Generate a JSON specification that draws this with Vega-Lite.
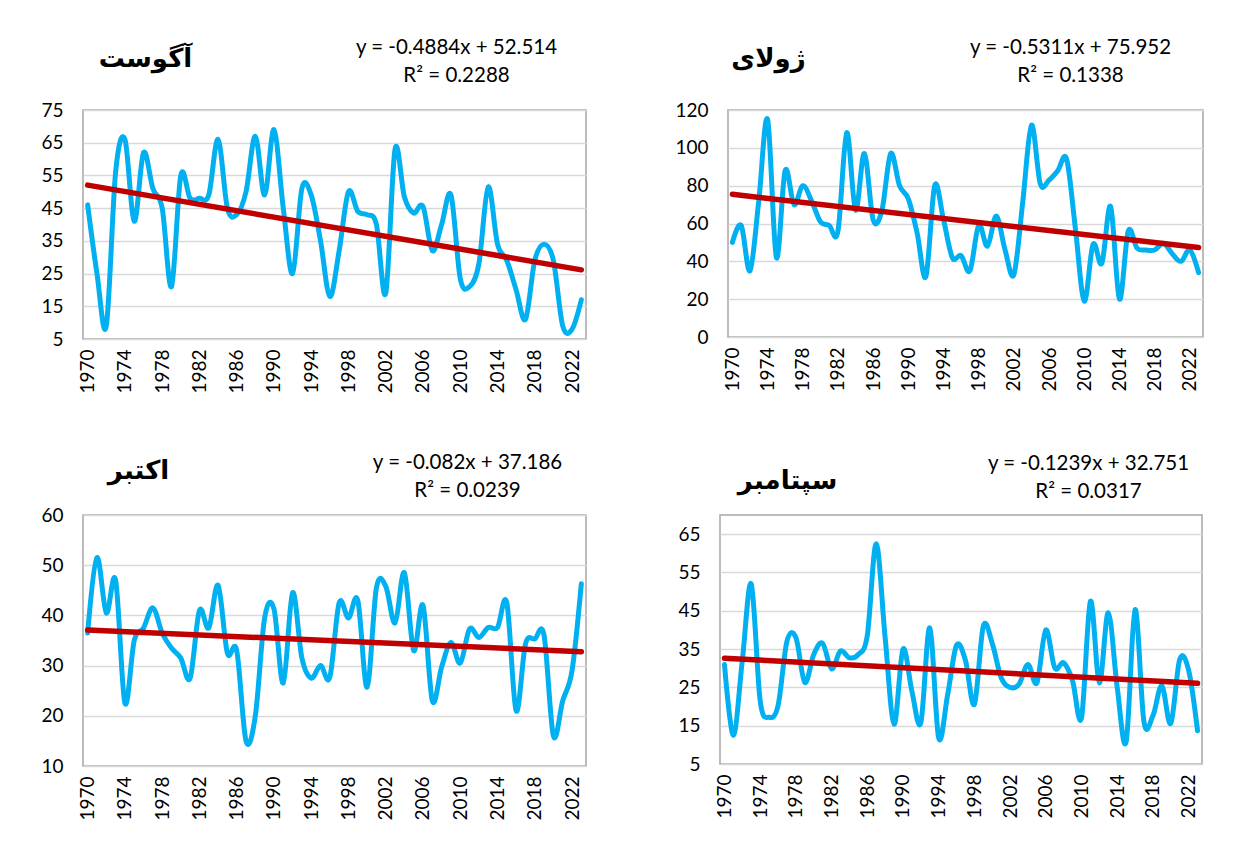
{
  "$schema": "https://vega.github.io/schema/vega-lite/v6.json",
  "background": "white",
  "padding": {"left": 40, "top": 36, "right": 10, "bottom": 0},
  "config": {
    "view": {"stroke": "#A6A6A6", "strokeWidth": 1.5},
    "axis": {"labelFont": "Lato", "labelFontSize": 19, "labelColor": "#000000", "ticks": false, "domain": false, "titleColor": "#000000"}
  },
  "datasets": {
    "aug": [
      {"year": 1970, "value": 46}, {"year": 1971, "value": 25}, {"year": 1972, "value": 9}, {"year": 1973, "value": 56},
      {"year": 1974, "value": 66}, {"year": 1975, "value": 41}, {"year": 1976, "value": 62}, {"year": 1977, "value": 51},
      {"year": 1978, "value": 45}, {"year": 1979, "value": 21}, {"year": 1980, "value": 55}, {"year": 1981, "value": 48},
      {"year": 1982, "value": 48}, {"year": 1983, "value": 49}, {"year": 1984, "value": 66}, {"year": 1985, "value": 45},
      {"year": 1986, "value": 43}, {"year": 1987, "value": 50}, {"year": 1988, "value": 67}, {"year": 1989, "value": 49},
      {"year": 1990, "value": 69}, {"year": 1991, "value": 45}, {"year": 1992, "value": 25}, {"year": 1993, "value": 51},
      {"year": 1994, "value": 49}, {"year": 1995, "value": 35}, {"year": 1996, "value": 18}, {"year": 1997, "value": 32},
      {"year": 1998, "value": 50}, {"year": 1999, "value": 44}, {"year": 2000, "value": 43}, {"year": 2001, "value": 40},
      {"year": 2002, "value": 19}, {"year": 2003, "value": 63}, {"year": 2004, "value": 48.5}, {"year": 2005, "value": 43.5},
      {"year": 2006, "value": 45.5}, {"year": 2007, "value": 32}, {"year": 2008, "value": 40}, {"year": 2009, "value": 49},
      {"year": 2010, "value": 23.5}, {"year": 2011, "value": 21}, {"year": 2012, "value": 28}, {"year": 2013, "value": 51.5},
      {"year": 2014, "value": 34}, {"year": 2015, "value": 29}, {"year": 2016, "value": 20}, {"year": 2017, "value": 11},
      {"year": 2018, "value": 29}, {"year": 2019, "value": 34}, {"year": 2020, "value": 29}, {"year": 2021, "value": 9},
      {"year": 2022, "value": 8}, {"year": 2023, "value": 17}
    ],
    "augTrend": [{"year": 1970, "value": 52.03}, {"year": 2023, "value": 26.14}],
    "jul": [
      {"year": 1970, "value": 50}, {"year": 1971, "value": 59}, {"year": 1972, "value": 35}, {"year": 1973, "value": 72},
      {"year": 1974, "value": 115}, {"year": 1975, "value": 42}, {"year": 1976, "value": 88}, {"year": 1977, "value": 70},
      {"year": 1978, "value": 80}, {"year": 1979, "value": 72}, {"year": 1980, "value": 61}, {"year": 1981, "value": 59},
      {"year": 1982, "value": 56}, {"year": 1983, "value": 108}, {"year": 1984, "value": 67}, {"year": 1985, "value": 97},
      {"year": 1986, "value": 62}, {"year": 1987, "value": 67}, {"year": 1988, "value": 97}, {"year": 1989, "value": 80},
      {"year": 1990, "value": 73}, {"year": 1991, "value": 55}, {"year": 1992, "value": 32}, {"year": 1993, "value": 80},
      {"year": 1994, "value": 62}, {"year": 1995, "value": 42}, {"year": 1996, "value": 43}, {"year": 1997, "value": 35},
      {"year": 1998, "value": 59}, {"year": 1999, "value": 48}, {"year": 2000, "value": 64}, {"year": 2001, "value": 46},
      {"year": 2002, "value": 33}, {"year": 2003, "value": 71}, {"year": 2004, "value": 112}, {"year": 2005, "value": 81},
      {"year": 2006, "value": 83}, {"year": 2007, "value": 88}, {"year": 2008, "value": 94}, {"year": 2009, "value": 57},
      {"year": 2010, "value": 19}, {"year": 2011, "value": 49}, {"year": 2012, "value": 39}, {"year": 2013, "value": 69},
      {"year": 2014, "value": 20}, {"year": 2015, "value": 56}, {"year": 2016, "value": 47}, {"year": 2017, "value": 46},
      {"year": 2018, "value": 46}, {"year": 2019, "value": 49.5}, {"year": 2020, "value": 44}, {"year": 2021, "value": 40},
      {"year": 2022, "value": 46}, {"year": 2023, "value": 34}
    ],
    "julTrend": [{"year": 1970, "value": 75.42}, {"year": 2023, "value": 47.27}],
    "oct": [
      {"year": 1970, "value": 36.5}, {"year": 1971, "value": 51.5}, {"year": 1972, "value": 40.5}, {"year": 1973, "value": 47},
      {"year": 1974, "value": 22.5}, {"year": 1975, "value": 35}, {"year": 1976, "value": 37.5}, {"year": 1977, "value": 41.5},
      {"year": 1978, "value": 36.5}, {"year": 1979, "value": 33.5}, {"year": 1980, "value": 31.5}, {"year": 1981, "value": 27.5},
      {"year": 1982, "value": 41}, {"year": 1983, "value": 37.5}, {"year": 1984, "value": 46}, {"year": 1985, "value": 32.5},
      {"year": 1986, "value": 33}, {"year": 1987, "value": 15}, {"year": 1988, "value": 20}, {"year": 1989, "value": 39.5},
      {"year": 1990, "value": 41.3}, {"year": 1991, "value": 26.5}, {"year": 1992, "value": 44.5}, {"year": 1993, "value": 31.5},
      {"year": 1994, "value": 27.5}, {"year": 1995, "value": 30}, {"year": 1996, "value": 27.7}, {"year": 1997, "value": 42.5},
      {"year": 1998, "value": 39.5}, {"year": 1999, "value": 43}, {"year": 2000, "value": 25.7}, {"year": 2001, "value": 45.5},
      {"year": 2002, "value": 45.8}, {"year": 2003, "value": 38.5}, {"year": 2004, "value": 48.5}, {"year": 2005, "value": 33},
      {"year": 2006, "value": 42}, {"year": 2007, "value": 23}, {"year": 2008, "value": 29.7}, {"year": 2009, "value": 34.6},
      {"year": 2010, "value": 30.5}, {"year": 2011, "value": 37.3}, {"year": 2012, "value": 35.6}, {"year": 2013, "value": 37.6},
      {"year": 2014, "value": 37.6}, {"year": 2015, "value": 42.5}, {"year": 2016, "value": 21}, {"year": 2017, "value": 34.3},
      {"year": 2018, "value": 35.3}, {"year": 2019, "value": 36}, {"year": 2020, "value": 16}, {"year": 2021, "value": 23},
      {"year": 2022, "value": 29}, {"year": 2023, "value": 46.3}
    ],
    "octTrend": [{"year": 1970, "value": 37.10}, {"year": 2023, "value": 32.76}],
    "sep": [
      {"year": 1970, "value": 31}, {"year": 1971, "value": 12.5}, {"year": 1972, "value": 32}, {"year": 1973, "value": 52},
      {"year": 1974, "value": 21.5}, {"year": 1975, "value": 17.2}, {"year": 1976, "value": 20.2}, {"year": 1977, "value": 37},
      {"year": 1978, "value": 38}, {"year": 1979, "value": 26.3}, {"year": 1980, "value": 33.6}, {"year": 1981, "value": 36.5},
      {"year": 1982, "value": 29.8}, {"year": 1983, "value": 34.5}, {"year": 1984, "value": 32.7}, {"year": 1985, "value": 33.6},
      {"year": 1986, "value": 38.5}, {"year": 1987, "value": 62.5}, {"year": 1988, "value": 38}, {"year": 1989, "value": 15.4},
      {"year": 1990, "value": 35}, {"year": 1991, "value": 24}, {"year": 1992, "value": 15.8}, {"year": 1993, "value": 40.5},
      {"year": 1994, "value": 11.8}, {"year": 1995, "value": 23}, {"year": 1996, "value": 36}, {"year": 1997, "value": 32},
      {"year": 1998, "value": 20.6}, {"year": 1999, "value": 41}, {"year": 2000, "value": 36.5}, {"year": 2001, "value": 27.5},
      {"year": 2002, "value": 25}, {"year": 2003, "value": 25.8}, {"year": 2004, "value": 31}, {"year": 2005, "value": 26.2},
      {"year": 2006, "value": 40}, {"year": 2007, "value": 30.1}, {"year": 2008, "value": 31.4}, {"year": 2009, "value": 26.7},
      {"year": 2010, "value": 17.1}, {"year": 2011, "value": 47.5}, {"year": 2012, "value": 26.2}, {"year": 2013, "value": 44.5},
      {"year": 2014, "value": 25}, {"year": 2015, "value": 10.8}, {"year": 2016, "value": 45.3}, {"year": 2017, "value": 16},
      {"year": 2018, "value": 17.6}, {"year": 2019, "value": 25.4}, {"year": 2020, "value": 15.6}, {"year": 2021, "value": 32.3},
      {"year": 2022, "value": 29.5}, {"year": 2023, "value": 13.7}
    ],
    "sepTrend": [{"year": 1970, "value": 32.63}, {"year": 2023, "value": 26.06}]
  },
  "vconcat": [
    {
      "bounds": "flush",
      "spacing": 142,
      "hconcat": [
        {
          "width": 503, "height": 229,
          "encoding": {
            "x": {"field": "year", "type": "ordinal", "scale": {"type": "point", "padding": 0.5},
              "axis": {"values": [1970,1974,1978,1982,1986,1990,1994,1998,2002,2006,2010,2014,2018,2022], "labelAngle": -90, "labelPadding": 10, "grid": false,
                "title": ["y = -0.4884x + 52.514", "R² = 0.2288"], "titleFont": "Lato", "titleFontSize": 20.5, "titleFontWeight": "normal",
                "titleX": 373, "titleY": -286, "titleAlign": "center", "titleBaseline": "alphabetic", "titleLineHeight": 28}},
            "y": {"field": "value", "type": "quantitative", "scale": {"domain": [5, 75], "nice": false, "zero": false},
              "axis": {"values": [5,15,25,35,45,55,65,75], "labelPadding": 20, "grid": true, "gridColor": "#D9D9D9", "gridWidth": 1.5,
                "title": "آگوست", "titleFont": "DejaVu Sans", "titleFontSize": 26, "titleFontWeight": "bold", "titleAngle": 0,
                "titleX": 62, "titleY": -52, "titleAlign": "center", "titleBaseline": "middle"}}
          },
          "layer": [
            {"data": {"name": "aug"}, "mark": {"type": "line", "interpolate": "cardinal", "color": "#00B0F0", "strokeWidth": 5, "strokeCap": "round", "strokeJoin": "round"}},
            {"data": {"name": "augTrend"}, "mark": {"type": "line", "color": "#C00000", "strokeWidth": 5.5, "strokeCap": "round"}}
          ]
        },
        {
          "width": 475, "height": 227,
          "encoding": {
            "x": {"field": "year", "type": "ordinal", "scale": {"type": "point", "padding": 0.5},
              "axis": {"values": [1970,1974,1978,1982,1986,1990,1994,1998,2002,2006,2010,2014,2018,2022], "labelAngle": -90, "labelPadding": 10, "grid": false,
                "title": ["y = -0.5311x + 75.952", "R² = 0.1338"], "titleFont": "Lato", "titleFontSize": 20.5, "titleFontWeight": "normal",
                "titleX": 342, "titleY": -284, "titleAlign": "center", "titleBaseline": "alphabetic", "titleLineHeight": 28}},
            "y": {"field": "value", "type": "quantitative", "scale": {"domain": [0, 120], "nice": false},
              "axis": {"values": [0,20,40,60,80,100,120], "labelPadding": 20, "grid": true, "gridColor": "#D9D9D9", "gridWidth": 1.5,
                "title": "ژولای", "titleFont": "DejaVu Sans", "titleFontSize": 26, "titleFontWeight": "bold", "titleAngle": 0,
                "titleX": 40, "titleY": -52, "titleAlign": "center", "titleBaseline": "middle"}}
          },
          "layer": [
            {"data": {"name": "jul"}, "mark": {"type": "line", "interpolate": "cardinal", "color": "#00B0F0", "strokeWidth": 5, "strokeCap": "round", "strokeJoin": "round"}},
            {"data": {"name": "julTrend"}, "mark": {"type": "line", "color": "#C00000", "strokeWidth": 5.5, "strokeCap": "round"}}
          ]
        }
      ]
    },
    {
      "bounds": "flush",
      "spacing": 134,
      "hconcat": [
        {
          "width": 503, "height": 251,
          "encoding": {
            "x": {"field": "year", "type": "ordinal", "scale": {"type": "point", "padding": 0.5},
              "axis": {"values": [1970,1974,1978,1982,1986,1990,1994,1998,2002,2006,2010,2014,2018,2022], "labelAngle": -90, "labelPadding": 10, "grid": false,
                "title": ["y = -0.082x + 37.186", "R² = 0.0239"], "titleFont": "Lato", "titleFontSize": 20.5, "titleFontWeight": "normal",
                "titleX": 384, "titleY": -298, "titleAlign": "center", "titleBaseline": "alphabetic", "titleLineHeight": 28}},
            "y": {"field": "value", "type": "quantitative", "scale": {"domain": [10, 60], "nice": false, "zero": false},
              "axis": {"values": [10,20,30,40,50,60], "labelPadding": 20, "grid": true, "gridColor": "#D9D9D9", "gridWidth": 1.5,
                "title": "اكتبر", "titleFont": "DejaVu Sans", "titleFontSize": 26, "titleFontWeight": "bold", "titleAngle": 0,
                "titleX": 55, "titleY": -45, "titleAlign": "center", "titleBaseline": "middle"}}
          },
          "layer": [
            {"data": {"name": "oct"}, "mark": {"type": "line", "interpolate": "cardinal", "color": "#00B0F0", "strokeWidth": 5, "strokeCap": "round", "strokeJoin": "round"}},
            {"data": {"name": "octTrend"}, "mark": {"type": "line", "color": "#C00000", "strokeWidth": 5.5, "strokeCap": "round"}}
          ]
        },
        {
          "width": 482, "height": 249,
          "encoding": {
            "x": {"field": "year", "type": "ordinal", "scale": {"type": "point", "padding": 0.5},
              "axis": {"values": [1970,1974,1978,1982,1986,1990,1994,1998,2002,2006,2010,2014,2018,2022], "labelAngle": -90, "labelPadding": 10, "grid": false,
                "title": ["y = -0.1239x + 32.751", "R² = 0.0317"], "titleFont": "Lato", "titleFontSize": 20.5, "titleFontWeight": "normal",
                "titleX": 368, "titleY": -295, "titleAlign": "center", "titleBaseline": "alphabetic", "titleLineHeight": 28}},
            "y": {"field": "value", "type": "quantitative", "scale": {"domain": [5, 70], "nice": false, "zero": false},
              "axis": {"values": [5,15,25,35,45,55,65], "labelPadding": 20, "grid": true, "gridColor": "#D9D9D9", "gridWidth": 1.5,
                "title": "سپتامبر", "titleFont": "DejaVu Sans", "titleFontSize": 26, "titleFontWeight": "bold", "titleAngle": 0,
                "titleX": 67, "titleY": -35, "titleAlign": "center", "titleBaseline": "middle"}}
          },
          "layer": [
            {"data": {"name": "sep"}, "mark": {"type": "line", "interpolate": "cardinal", "color": "#00B0F0", "strokeWidth": 5, "strokeCap": "round", "strokeJoin": "round"}},
            {"data": {"name": "sepTrend"}, "mark": {"type": "line", "color": "#C00000", "strokeWidth": 5.5, "strokeCap": "round"}}
          ]
        }
      ]
    }
  ],
  "spacing": 405,
  "bounds": "flush"
}
